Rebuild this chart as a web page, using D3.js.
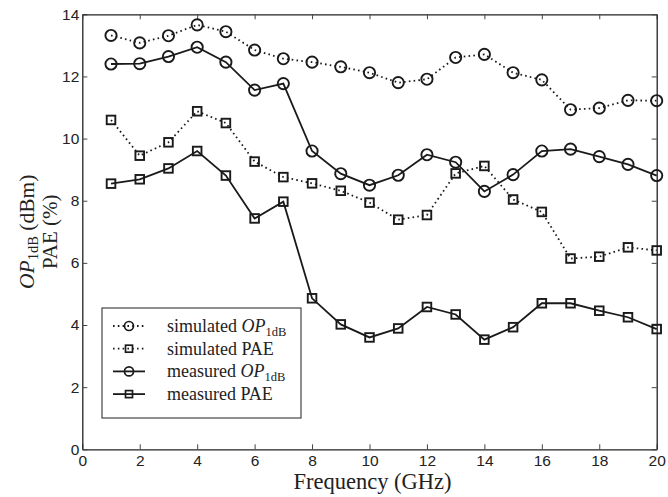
<!DOCTYPE html>
<html>
<head>
<meta charset="utf-8">
<script src="https://cdn.jsdelivr.net/npm/d3@7"></script>
<style>
  body { margin: 0; background: #fff; }
  svg { display: block; }
</style>
</head>
<body>
<div id="chart"></div>
<script>
var freq = [1, 2, 3, 4, 5, 6, 7, 8, 9, 10, 11, 12, 13, 14, 15, 16, 17, 18, 19, 20];
var simOP = [13.32, 13.08, 13.31, 13.66, 13.44, 12.85, 12.57, 12.46, 12.31, 12.12, 11.8, 11.91, 12.61, 12.71, 12.12, 11.89, 10.93, 10.98, 11.23, 11.22];
var simPAE = [10.6, 9.45, 9.88, 10.88, 10.5, 9.26, 8.76, 8.56, 8.32, 7.94, 7.39, 7.54, 8.88, 9.12, 8.04, 7.64, 6.14, 6.2, 6.5, 6.4];
var measOP = [12.4, 12.41, 12.64, 12.94, 12.46, 11.56, 11.77, 9.6, 8.87, 8.5, 8.82, 9.48, 9.24, 8.3, 8.84, 9.6, 9.66, 9.42, 9.17, 8.81];
var measPAE = [8.55, 8.69, 9.04, 9.6, 8.81, 7.43, 7.97, 4.86, 4.02, 3.6, 3.89, 4.58, 4.34, 3.53, 3.93, 4.7, 4.7, 4.46, 4.25, 3.87];
var xTicks = [0, 2, 4, 6, 8, 10, 12, 14, 16, 18, 20];
var yTicks = [0, 2, 4, 6, 8, 10, 12, 14];

var margin = { top: 14.3, right: 11.3, bottom: 47.7, left: 82.3 },
    width = 668 - margin.left - margin.right,
    height = 497 - margin.top - margin.bottom;

var svg = d3.select("#chart")
    .append("svg")
    .attr("width", 668)
    .attr("height", 497)
    .append("g")
    .attr("transform", "translate(" + margin.left + "," + margin.top + ")");

var x = d3.scaleLinear().domain([0, 20]).range([0, width]);
var y = d3.scaleLinear().domain([0, 14]).range([height, 0]);

// axes with inward ticks on all four sides
function styleAxis(g) {
    g.selectAll("path").attr("stroke", "#222").attr("stroke-width", 1.3);
    g.selectAll("line").attr("stroke", "#444").attr("stroke-width", 1);
    g.selectAll("text")
        .attr("fill", "#222")
        .style("font-family", "'Liberation Sans', Arial, sans-serif")
        .style("font-size", "15.5px");
}

svg.append("g")
    .attr("transform", "translate(0," + height + ")")
    .call(d3.axisBottom(x).tickValues(xTicks).tickSize(-5).tickPadding(6).tickSizeOuter(0))
    .call(styleAxis);

svg.append("g")
    .call(d3.axisLeft(y).tickValues(yTicks).tickSize(-5).tickPadding(3).tickSizeOuter(0))
    .call(styleAxis);

svg.append("g")
    .call(d3.axisTop(x).tickValues(xTicks).tickSize(-5).tickFormat("").tickSizeOuter(0))
    .call(styleAxis);

svg.append("g")
    .attr("transform", "translate(" + width + ",0)")
    .call(d3.axisRight(y).tickValues(yTicks).tickSize(-5).tickFormat("").tickSizeOuter(0))
    .call(styleAxis);

var series = [
    { name: "simOP", values: simOP, dotted: true, marker: "circle" },
    { name: "simPAE", values: simPAE, dotted: true, marker: "square" },
    { name: "measOP", values: measOP, dotted: false, marker: "circle" },
    { name: "measPAE", values: measPAE, dotted: false, marker: "square" }
];

var line = d3.line()
    .x(function (d) { return x(d[0]); })
    .y(function (d) { return y(d[1]); });

function drawMarker(g, type, cx, cy) {
    if (type == "circle") {
        g.append("circle")
            .attr("cx", cx).attr("cy", cy).attr("r", 5.6)
            .attr("fill", "none").attr("stroke", "#1a1a1a").attr("stroke-width", 1.9);
    } else {
        g.append("rect")
            .attr("x", cx - 4.3).attr("y", cy - 4.3)
            .attr("width", 8.6).attr("height", 8.6)
            .attr("fill", "none").attr("stroke", "#1a1a1a").attr("stroke-width", 1.9);
    }
}

series.forEach(function (s) {
    var pts = freq.map(function (f, i) { return [f, s.values[i]]; });
    svg.append("path")
        .datum(pts)
        .attr("fill", "none")
        .attr("stroke", "#1a1a1a")
        .attr("stroke-width", 1.8)
        .attr("stroke-dasharray", s.dotted ? "1.6,3.2" : null)
        .attr("d", line);
    var mg = svg.append("g");
    pts.forEach(function (p) { drawMarker(mg, s.marker, x(p[0]), y(p[1])); });
});

// axis titles
var serif = "'Liberation Serif', 'Times New Roman', serif";

svg.append("text")
    .attr("x", width / 2 + 3)
    .attr("y", height + 40)
    .attr("text-anchor", "middle")
    .style("font-family", serif)
    .style("font-size", "22.5px")
    .attr("fill", "#222")
    .text("Frequency (GHz)");

var yl = svg.append("g")
    .attr("transform", "translate(" + (34 - margin.left) + "," + (height / 2) + ") rotate(-90)");

var yl1 = yl.append("text")
    .attr("text-anchor", "middle")
    .style("font-family", serif)
    .style("font-size", "21.5px")
    .attr("fill", "#222");
yl1.append("tspan").style("font-style", "italic").text("OP");
yl1.append("tspan").attr("dy", 4).style("font-size", "14.5px").text("1dB");
yl1.append("tspan").attr("dy", -4).text(" (dBm)");

yl.append("text")
    .attr("y", 23)
    .attr("text-anchor", "middle")
    .style("font-family", serif)
    .style("font-size", "21px")
    .attr("fill", "#222")
    .text("PAE (%)");

// legend
var legendItems = [
    { label: "simulated ", sub: true, dotted: true, marker: "circle" },
    { label: "simulated PAE", sub: false, dotted: true, marker: "square" },
    { label: "measured ", sub: true, dotted: false, marker: "circle" },
    { label: "measured PAE", sub: false, dotted: false, marker: "square" }
];

var lg = svg.append("g")
    .attr("transform", "translate(" + (102 - margin.left) + "," + (308 - margin.top) + ")");

lg.append("rect")
    .attr("width", 199).attr("height", 110)
    .attr("fill", "#fff")
    .attr("stroke", "#333").attr("stroke-width", 1.1);

legendItems.forEach(function (d, i) {
    var cy = 18 + i * 22.7;
    lg.append("line")
        .attr("x1", 11).attr("x2", 43)
        .attr("y1", cy).attr("y2", cy)
        .attr("stroke", "#1a1a1a").attr("stroke-width", 1.8)
        .attr("stroke-dasharray", d.dotted ? "1.6,3.2" : null);
    var mg = lg.append("g");
    if (d.marker == "circle") {
        mg.append("circle").attr("cx", 27).attr("cy", cy).attr("r", 4.5)
            .attr("fill", "none").attr("stroke", "#1a1a1a").attr("stroke-width", 1.7);
    } else {
        mg.append("rect").attr("x", 23.5).attr("y", cy - 3.5).attr("width", 7).attr("height", 7)
            .attr("fill", "none").attr("stroke", "#1a1a1a").attr("stroke-width", 1.7);
    }
    var t = lg.append("text")
        .attr("x", 65).attr("y", cy + 6)
        .style("font-family", serif)
        .style("font-size", "18px")
        .attr("fill", "#222");
    t.append("tspan").text(d.label);
    if (d.sub) {
        t.append("tspan").style("font-style", "italic").text("OP");
        t.append("tspan").attr("dy", 3.5).style("font-size", "12.5px").text("1dB");
    }
});
</script>
</body>
</html>
